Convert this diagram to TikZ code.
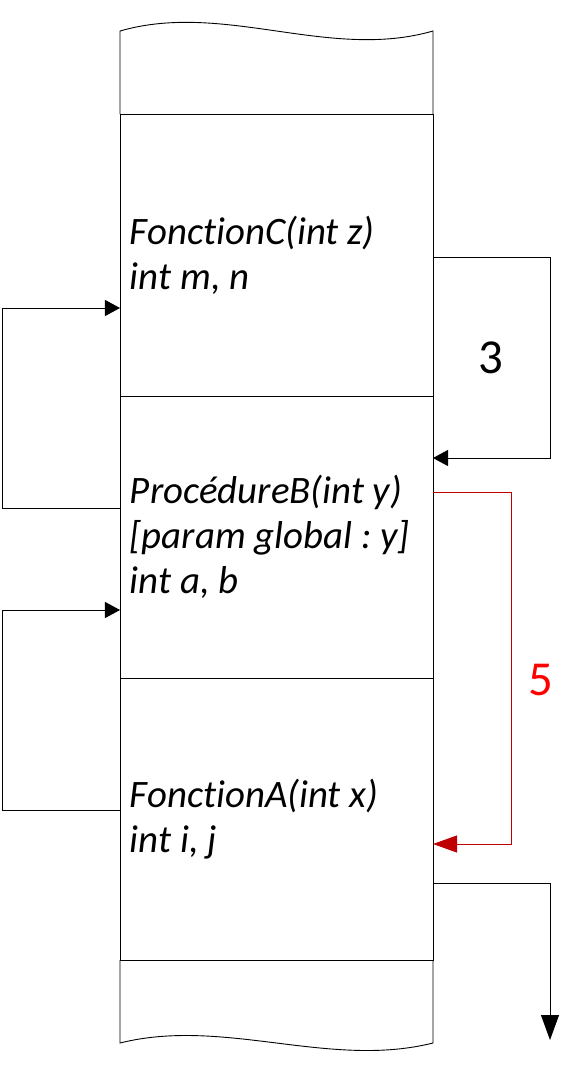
\documentclass[tikz,border=0pt]{standalone}
\usepackage{fontspec}
\setmainfont[Ligatures={NoCommon,NoDiscretionary,NoContextual}]{Carlito}
\usetikzlibrary{arrows.meta,calc,positioning}
\definecolor{darkred}{HTML}{C00000}
\frenchspacing

\begin{document}
\begin{tikzpicture}[x=1bp,y=1bp,
  frame/.style={draw=black,line width=0.9bp,minimum width=313bp,minimum height=282bp,
    inner sep=0pt,outer sep=0pt,text width=293bp,align=flush left,
    font=\fontsize{39}{45}\selectfont\itshape},
  link/.style={draw=black,line width=0.9bp,-{Triangle[length=15bp,width=16bp]}},
  redlink/.style={draw=darkred,line width=0.9bp,-{Triangle[length=24bp,width=17bp]}},
  num/.style={font=\fontsize{49}{49}\selectfont}]

\useasboundingbox (0,0) rectangle (581,-1075);

\node[frame] (fC) at (276.5,-255) {FonctionC(int z)\\int m, n};
\node[frame] (fB) at (276.5,-537) {ProcédureB(int y)\\{[}param global : y{]}\\int a, b};
\node[frame] (fA) at (276.5,-819) {FonctionA(int x)\\int i, j};

\coordinate (topL) at (120,-31);
\coordinate (topR) at (433,-31);
\coordinate (botL) at (120,-1043);
\coordinate (botR) at (433,-1043);
\draw[line width=0.9bp] (fC.north west) -- (topL) .. controls (224,-1) and (329,-61) .. (topR) -- (fC.north east);
\draw[line width=0.9bp] (fA.south west) -- (botL) .. controls (224,-1017) and (329,-1069) .. (botR) -- (fA.south east);

\draw[link] ([yshift=-2bp]fC.east) -- ++(117,0) |- ([yshift=79bp]fB.east);
\node[num] (n3) at (491,-358) {3};

\draw[redlink] ([yshift=45bp]fB.east) -- ++(78,0) |- ([yshift=-25bp]fA.east);
\node[num,text=red] (n5) at (541,-680) {5};

\draw[link] ([yshift=29bp]fB.west) -- ++(-118,0) |- ([yshift=-53bp]fC.west);
\draw[link] ([yshift=9bp]fA.west) -- ++(-118,0) |- ([yshift=-73bp]fB.west);

\coordinate (out) at (550,-1040);
\draw[link,-{Triangle[length=25bp,width=18bp]}] ([yshift=-64bp]fA.east) -| (out);
\end{tikzpicture}
\end{document}
